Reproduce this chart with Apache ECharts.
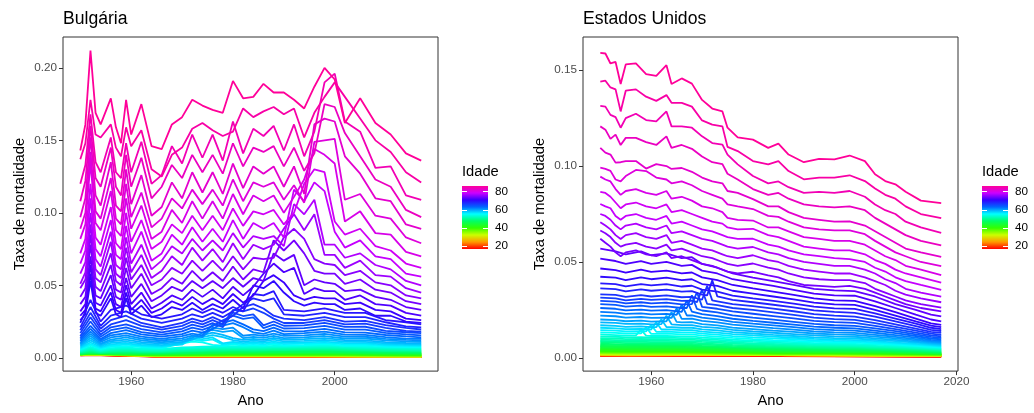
<!DOCTYPE html>
<html>
<head>
<meta charset="utf-8">
<script src="https://cdn.jsdelivr.net/npm/echarts@6/dist/echarts.min.js"></script>
<style>
  html, body { margin: 0; padding: 0; background: #fff; }
  #chart { width: 1034px; height: 413px; }
</style>
</head>
<body>
<div id="chart"></div>
<script>
// ---- Bulgária: idades altas (linhas com mais detalhe) ----
const bgYearsFine = [1950,1951,1952,1953,1954,1956,1957,1958,1959,1960,1962,1964,1966,1968,1970,1972,1974,1976,1978,1980,1982,1984,1986,1988,1990,1992,1994,1996,1998,2000,2002,2005,2008,2011,2014,2017]
const bgAgesFine = [86,85,84,83,82,81,80,79,78,77,76,75,74,73,72,71,70]
const bgRatesFine = [
  [.143,.161,.212,.169,.161,.179,.159,.148,.178,.154,.175,.146,.144,.161,.166,.178,.174,.171,.169,.191,.179,.180,.189,.183,.183,.178,.172,.187,.200,.192,.162,.179,.162,.154,.141,.136],
  [.137,.148,.178,.154,.152,.161,.145,.139,.159,.146,.157,.130,.125,.140,.145,.158,.162,.157,.153,.156,.172,.166,.170,.173,.168,.172,.152,.169,.180,.190,.180,.165,.150,.142,.128,.121],
  [.120,.133,.168,.135,.128,.152,.128,.124,.148,.128,.149,.120,.126,.146,.134,.154,.138,.154,.136,.163,.141,.158,.153,.160,.143,.161,.139,.156,.190,.196,.163,.156,.131,.132,.112,.109],
  [.108,.122,.160,.124,.118,.145,.118,.112,.140,.118,.138,.110,.118,.133,.124,.140,.128,.140,.127,.148,.132,.145,.142,.146,.132,.145,.129,.141,.175,.173,.155,.139,.123,.118,.102,.097],
  [.097,.110,.152,.112,.105,.135,.105,.101,.130,.106,.126,.098,.104,.121,.110,.128,.114,.128,.113,.134,.117,.132,.127,.132,.118,.132,.113,.161,.165,.163,.139,.127,.110,.108,.092,.089],
  [.089,.100,.142,.101,.096,.124,.096,.092,.120,.097,.114,.090,.096,.110,.103,.116,.106,.116,.105,.123,.108,.121,.118,.121,.109,.119,.107,.149,.150,.151,.109,.113,.098,.096,.083,.079],
  [.082,.092,.135,.093,.088,.115,.088,.084,.110,.089,.105,.082,.087,.102,.093,.108,.096,.108,.096,.113,.099,.112,.108,.112,.100,.111,.123,.144,.140,.134,.094,.101,.086,.085,.073,.070],
  [.072,.082,.120,.083,.078,.104,.079,.075,.100,.080,.095,.075,.080,.092,.086,.098,.088,.098,.088,.103,.091,.101,.099,.102,.092,.100,.120,.130,.128,.094,.085,.089,.077,.074,.065,.062],
  [.065,.074,.110,.075,.070,.095,.071,.068,.091,.072,.087,.067,.072,.085,.078,.090,.080,.089,.080,.095,.082,.093,.089,.093,.083,.116,.108,.121,.115,.087,.076,.081,.070,.068,.058,.056],
  [.058,.066,.100,.068,.063,.087,.064,.061,.083,.065,.078,.061,.067,.077,.072,.082,.074,.081,.074,.086,.076,.084,.082,.084,.077,.106,.099,.109,.078,.078,.069,.072,.064,.061,.053,.050],
  [.051,.059,.092,.061,.057,.080,.058,.055,.076,.059,.071,.055,.060,.070,.064,.076,.067,.075,.066,.079,.068,.078,.075,.078,.089,.099,.088,.099,.071,.071,.062,.067,.057,.056,.048,.045],
  [.048,.054,.085,.055,.052,.072,.053,.050,.069,.054,.064,.050,.054,.062,.058,.067,.060,.067,.060,.070,.061,.069,.068,.069,.083,.089,.082,.068,.065,.064,.057,.060,.052,.050,.043,.041],
  [.042,.048,.078,.049,.046,.064,.047,.045,.062,.048,.058,.044,.048,.055,.051,.060,.053,.059,.053,.063,.054,.061,.059,.081,.074,.081,.072,.060,.058,.058,.051,.054,.047,.045,.039,.037],
  [.037,.042,.070,.043,.041,.057,.042,.040,.055,.042,.051,.039,.043,.049,.046,.053,.048,.053,.048,.055,.049,.055,.053,.072,.067,.071,.050,.054,.052,.051,.046,.047,.042,.040,.035,.033],
  [.032,.037,.064,.038,.036,.050,.037,.035,.050,.037,.045,.034,.038,.043,.040,.047,.042,.047,.041,.049,.043,.049,.058,.065,.059,.062,.044,.048,.046,.046,.040,.043,.037,.036,.031,.029],
  [.029,.033,.058,.034,.032,.045,.033,.031,.045,.033,.040,.031,.034,.039,.036,.042,.037,.041,.037,.044,.038,.043,.053,.057,.052,.043,.040,.042,.041,.041,.037,.038,.033,.032,.027,.026],
  [.026,.030,.053,.031,.029,.041,.030,.028,.041,.030,.036,.028,.030,.035,.033,.038,.033,.037,.034,.040,.034,.050,.048,.053,.045,.039,.036,.038,.037,.037,.033,.034,.029,.029,.025,.024]
]

// ---- Bulgária: idades médias ----
const bgYearsMid = [1950,1952,1954,1956,1959,1962,1966,1970,1972,1974,1976,1978,1980,1982,1984,1986,1988,1990,1994,1998,2002,2006,2010,2014,2017]
const bgAgesMid = [69,68,67,66,65,64,63,62,61,60,59,58,57,56,55,54,53,52,51,50,49,48]
const bgRatesMid = [
  [.024,.040,.025,.033,.036,.030,.027,.030,.034,.031,.034,.031,.035,.032,.044,.043,.046,.033,.032,.034,.031,.031,.026,.0245,.023],
  [.021,.035,.022,.029,.032,.027,.024,.027,.030,.028,.031,.028,.032,.037,.041,.039,.041,.030,.029,.031,.028,.028,.0245,.0216,.021],
  [.019,.031,.020,.026,.029,.024,.021,.024,.027,.025,.028,.025,.029,.035,.037,.034,.029,.027,.026,.028,.025,.0255,.0225,.0206,.0195],
  [.017,.028,.018,.023,.026,.022,.0194,.022,.025,.023,.026,.023,.033,.032,.034,.031,.027,.024,.024,.026,.023,.0235,.0206,.0186,.018],
  [.015,.025,.016,.021,.023,.0198,.0175,.020,.0229,.0211,.0239,.0211,.0312,.0288,.0299,.0223,.025,.0221,.0223,.024,.0213,.0214,.0186,.0176,.017],
  [.0137,.022,.0145,.019,.021,.0177,.016,.0182,.0208,.0192,.0218,.0259,.0291,.0269,.0278,.0204,.0229,.0202,.0204,.022,.0194,.0194,.0172,.0162,.0155],
  [.0125,.020,.013,.017,.019,.0161,.0146,.0163,.0187,.0173,.0198,.024,.026,.023,.0196,.0184,.0208,.0182,.0184,.020,.0175,.0173,.0157,.0147,.014],
  [.0114,.018,.012,.0155,.017,.0146,.0131,.0149,.0166,.0154,.0229,.0221,.0239,.0211,.0175,.0165,.0187,.0163,.017,.018,.016,.0158,.0142,.0132,.013],
  [.0103,.0165,.011,.014,.0155,.0132,.0119,.0134,.0153,.0142,.0208,.0197,.0208,.0152,.016,.0151,.0166,.0151,.0155,.0165,.0146,.0145,.013,.0123,.012],
  [.0093,.015,.0098,.0125,.014,.012,.0107,.0122,.0138,.0173,.0192,.0178,.0187,.0136,.0144,.0137,.0151,.0136,.0141,.015,.0133,.0133,.012,.0113,.011],
  [.0085,.0135,.009,.0114,.0125,.0108,.0097,.011,.0125,.0156,.0174,.0158,.0135,.0123,.0131,.0124,.0137,.0125,.0128,.0136,.0121,.012,.0108,.0102,.010],
  [.0078,.012,.0082,.0103,.0112,.0098,.0087,.010,.0148,.0142,.0156,.0142,.0122,.0111,.0118,.0113,.0125,.0113,.0116,.0123,.0111,.011,.0099,.0094,.0093],
  [.007,.0105,.0074,.0092,.010,.0088,.008,.009,.0133,.0128,.014,.010,.011,.0101,.0107,.0102,.0112,.0103,.0106,.0112,.0101,.0101,.0091,.0087,.0086],
  [.0064,.0095,.0067,.0083,.009,.008,.0073,.011,.0125,.0117,.0127,.0091,.0101,.0092,.0098,.0093,.0103,.0094,.0097,.0103,.0092,.0093,.0084,.008,.008],
  [.0058,.0085,.0061,.0075,.0081,.0073,.0066,.0099,.0112,.0106,.0089,.0083,.0092,.0084,.0089,.0084,.0094,.0085,.0088,.0094,.0084,.0085,.0077,.0074,.0074],
  [.0053,.0075,.0055,.0067,.0072,.0063,.0062,.0071,.0074,.0076,.0078,.0078,.008,.0079,.0078,.0079,.0082,.0081,.0083,.0086,.008,.0076,.0072,.007,.0068],
  [.0048,.0067,.005,.006,.0065,.0057,.0056,.0064,.0067,.0069,.0071,.0071,.0073,.0072,.0071,.0072,.0075,.0074,.0076,.0079,.0073,.0069,.0066,.0064,.0062],
  [.0044,.006,.0046,.0055,.0059,.0052,.0051,.0059,.0061,.0063,.0065,.0065,.0066,.0066,.0065,.0066,.0068,.0068,.007,.0072,.0067,.0064,.006,.0058,.0057],
  [.004,.0054,.0042,.005,.0053,.0047,.0046,.0053,.0055,.0057,.0059,.0059,.006,.006,.0059,.006,.0062,.0062,.0064,.0066,.0061,.0058,.0055,.0053,.0052],
  [.0037,.0049,.0038,.0045,.0048,.0043,.0042,.0048,.005,.0052,.0054,.0054,.0055,.0055,.0054,.0055,.0057,.0057,.0059,.006,.0056,.0053,.005,.0049,.0048],
  [.0034,.0045,.0035,.0041,.0044,.0039,.0039,.0044,.0046,.0048,.005,.005,.0051,.0051,.005,.0051,.0053,.0053,.0055,.0056,.0052,.0049,.0046,.0045,.0044],
  [.0031,.0041,.0032,.0038,.004,.0036,.0036,.0041,.0042,.0044,.0046,.0046,.0047,.0047,.0046,.0047,.0049,.0049,.0051,.0052,.0048,.0045,.0042,.0041,.004]
]

// ---- Bulgária: idades jovens ----
const bgYearsLow = [1950,1952,1956,1965,1980,1995,2008,2017]
const bgAgesLow = [47,46,45,44,43,42,41,40,39,38,37,36,35,34,33,32,31,30,29,28,27,26,25,24,23,22,21,20,19,18,17]
const bgRatesLow = [
  [.0029,.0038,.0033,.0033,.0041,.0045,.0039,.0036],
  [.0028,.0036,.0031,.0031,.0038,.0042,.0036,.0033],
  [.0027,.0034,.003,.0029,.0035,.0039,.0033,.003],
  [.0026,.0033,.0029,.0027,.0032,.0036,.0031,.0028],
  [.0026,.0032,.0028,.0025,.003,.0033,.0028,.0026],
  [.0025,.0031,.0027,.0023,.0027,.003,.0026,.0024],
  [.0025,.003,.0026,.0021,.0025,.0028,.0024,.0022],
  [.0024,.0029,.0025,.002,.0023,.0026,.0022,.002],
  [.0024,.0028,.0025,.0019,.0021,.0024,.002,.0018],
  [.0024,.0028,.0024,.0018,.002,.0022,.0018,.0017],
  [.0023,.0027,.0024,.0017,.0018,.002,.0017,.0015],
  [.0023,.0027,.0023,.0016,.0017,.0019,.0016,.0014],
  [.0023,.0026,.0023,.0015,.0016,.0018,.0015,.0013],
  [.0023,.0026,.0023,.0014,.0015,.0017,.0014,.0012],
  [.0022,.0026,.0022,.0014,.0014,.0016,.0013,.0011],
  [.0022,.0025,.0022,.0013,.0013,.0015,.0012,.001],
  [.0022,.0025,.0022,.0013,.0013,.0014,.0011,.001],
  [.0022,.0025,.0021,.0012,.0012,.0013,.001,.0009],
  [.0022,.0025,.0021,.0012,.0012,.0013,.001,.0009],
  [.0022,.0024,.0021,.0012,.0011,.0012,.0009,.0008],
  [.0021,.0024,.0021,.0011,.0011,.0012,.0009,.0008],
  [.0021,.0024,.002,.0011,.0011,.0011,.0008,.0007],
  [.0021,.0024,.002,.0011,.001,.0011,.0008,.0007],
  [.0021,.0023,.002,.001,.001,.0011,.0008,.0007],
  [.0021,.0023,.002,.001,.001,.001,.0008,.0006],
  [.002,.0023,.0019,.001,.001,.001,.0007,.0006],
  [.002,.0022,.0019,.0009,.0009,.001,.0007,.0006],
  [.0019,.0022,.0018,.0009,.0009,.0009,.0007,.0005],
  [.0018,.0021,.0017,.0009,.0009,.0009,.0006,.0005],
  [.0017,.002,.0016,.0008,.0008,.0008,.0006,.0005],
  [.0016,.0019,.0015,.0008,.0008,.0008,.0005,.0004]
]

// ---- Estados Unidos: idades altas ----
const usYearsFine = [1950,1951,1952,1953,1954,1955,1957,1959,1961,1963,1964,1966,1968,1970,1972,1974,1975,1977,1980,1983,1985,1987,1990,1993,1996,1999,2002,2004,2006,2008,2010,2013,2017]
const usAgesFine = [86,85,84,83,82,81,80,79,78,77,76,75,74]
const usRatesFine = [
  [.159,.1587,.1535,.1543,.1428,.153,.1535,.148,.147,.1526,.1428,.1457,.143,.1345,.130,.1285,.120,.115,.1138,.1095,.1117,.106,.102,.1038,.1035,.1055,.1026,.0957,.0922,.0905,.0866,.082,.0807],
  [.144,.1445,.141,.140,.1285,.1393,.140,.1362,.134,.137,.133,.133,.131,.1238,.1216,.1207,.110,.1078,.1026,.1009,.1026,.0974,.0931,.094,.094,.0952,.0922,.0883,.085,.083,.079,.075,.0728],
  [.1314,.131,.1267,.1255,.120,.125,.1273,.124,.1233,.1285,.1207,.1207,.120,.1155,.112,.1112,.106,.1009,.0948,.091,.092,.089,.086,.0865,.086,.087,.084,.080,.077,.075,.071,.068,.0652],
  [.1207,.119,.1142,.1164,.111,.1147,.1147,.1125,.111,.1155,.1095,.111,.109,.105,.102,.101,.096,.093,.088,.085,.086,.083,.080,.079,.0785,.079,.077,.073,.070,.067,.064,.061,.0586],
  [.1095,.107,.106,.1018,.102,.1026,.1026,.0987,.101,.100,.0985,.099,.097,.094,.092,.091,.087,.086,.0828,.079,.079,.076,.073,.072,.071,.0712,.069,.066,.063,.060,.057,.055,.0526],
  [.0992,.0985,.0975,.093,.092,.0948,.098,.0974,.094,.093,.091,.092,.090,.087,.085,.083,.080,.079,.0776,.074,.0735,.071,.068,.067,.0665,.0665,.0645,.061,.058,.055,.053,.050,.0478],
  [.0945,.093,.092,.088,.085,.087,.088,.086,.085,.087,.083,.084,.082,.079,.078,.076,.073,.072,.0716,.068,.068,.066,.063,.062,.061,.061,.059,.056,.053,.051,.048,.046,.0431],
  [.0866,.086,.084,.081,.078,.080,.081,.079,.078,.080,.076,.077,.075,.073,.071,.070,.068,.067,.0673,.064,.063,.061,.058,.057,.056,.056,.054,.051,.049,.046,.044,.042,.0392],
  [.0802,.079,.078,.074,.072,.074,.075,.073,.072,.074,.070,.071,.069,.067,.066,.064,.063,.062,.0621,.059,.058,.056,.054,.053,.052,.0515,.050,.047,.045,.042,.040,.038,.0354],
  [.075,.074,.072,.069,.067,.069,.070,.068,.067,.069,.065,.066,.064,.062,.061,.059,.058,.057,.0578,.055,.054,.052,.050,.049,.048,.048,.046,.044,.041,.039,.036,.034,.0319],
  [.0707,.069,.067,.064,.062,.064,.065,.063,.062,.064,.060,.061,.059,.057,.056,.054,.053,.052,.0535,.051,.050,.048,.046,.045,.044,.044,.042,.040,.038,.035,.033,.031,.029],
  [.0664,.065,.063,.060,.058,.059,.060,.058,.057,.059,.056,.057,.055,.053,.052,.050,.049,.048,.0492,.047,.046,.044,.042,.041,.0405,.0405,.039,.036,.034,.032,.030,.028,.0262],
  [.0621,.060,.058,.055,.053,.055,.056,.054,.053,.055,.052,.053,.051,.049,.048,.046,.045,.044,.0449,.043,.042,.040,.038,.0375,.037,.0375,.036,.034,.032,.030,.028,.026,.0242]
]

// ---- Estados Unidos: idades médias ----
const usYearsMid = [1950,1953,1955,1958,1960,1963,1966,1968,1970,1973,1976,1980,1984,1988,1992,1996,2000,2004,2008,2012,2015,2017]
const usAgesMid = [73,72,71,70,69,68,67,66,65,64,63,62,61,60,59,58,57,56,55,54,53,52,51,50,49,48]
const usRatesMid = [
  [.0569,.0555,.054,.0555,.0535,.0545,.052,.0525,.049,.047,.044,.0418,.040,.038,.036,.0352,.0348,.032,.028,.025,.0225,.0216],
  [.0517,.0505,.049,.0505,.049,.050,.048,.0485,.0455,.044,.041,.0392,.0375,.0355,.0335,.0326,.0324,.0295,.026,.0225,.020,.019],
  [.0466,.0458,.0445,.046,.0448,.0455,.044,.0445,.042,.0405,.038,.0362,.0345,.0328,.031,.030,.0297,.027,.0238,.0205,.018,.0172],
  [.0423,.0418,.0405,.042,.041,.0418,.0405,.041,.0385,.0375,.035,.0335,.032,.0305,.0288,.0279,.0276,.025,.022,.019,.0168,.016],
  [.0388,.0385,.0373,.0385,.0378,.0385,.0372,.0376,.0356,.0345,.0325,.031,.0297,.0283,.0267,.0258,.0255,.0232,.0205,.0178,.0157,.015],
  [.0362,.0358,.0347,.0357,.035,.0356,.0345,.0348,.033,.032,.0302,.029,.0277,.0263,.0248,.024,.0235,.0215,.019,.0166,.0146,.014],
  [.0331,.0328,.0318,.0327,.032,.0326,.0316,.0318,.0303,.0295,.028,.027,.0257,.0243,.0228,.022,.0215,.0197,.0175,.0153,.0136,.013],
  [.0314,.031,.030,.0308,.0302,.0306,.0297,.0298,.0284,.0275,.026,.025,.0237,.0224,.021,.0202,.0198,.0181,.0162,.0142,.0126,.012],
  [.0297,.0293,.0284,.029,.0284,.0288,.0279,.028,.0266,.0256,.0242,.023,.0218,.0206,.0193,.0186,.0182,.0167,.015,.0132,.0117,.0112],
  [.028,.0276,.0267,.0272,.0266,.0269,.026,.0261,.0247,.0237,.0222,.021,.0199,.0188,.0177,.017,.0167,.0154,.0139,.0123,.0109,.0104],
  [.026,.0256,.0248,.0252,.0246,.0249,.024,.0241,.0228,.0218,.0204,.0193,.0183,.0173,.0163,.0157,.0154,.0142,.0129,.0114,.0101,.0097],
  [.024,.0236,.0229,.0232,.0227,.0229,.0221,.0222,.021,.0201,.0188,.0178,.0169,.016,.015,.0145,.0142,.0131,.0119,.0106,.0094,.009],
  [.022,.0217,.021,.0213,.0208,.021,.0203,.0204,.0193,.0185,.0173,.0164,.0155,.0147,.0138,.0133,.013,.012,.011,.0098,.0088,.0084],
  [.020,.0197,.0191,.0194,.0189,.0191,.0185,.0186,.0176,.0169,.0158,.015,.0142,.0135,.0127,.0122,.012,.0111,.0102,.0091,.0082,.0078],
  [.0185,.0182,.0177,.0179,.0175,.0176,.0171,.0171,.0162,.0156,.0146,.0138,.0131,.0124,.0117,.0112,.011,.0102,.0094,.0085,.0077,.0073],
  [.017,.0167,.0162,.0164,.016,.0161,.0157,.0157,.0149,.0143,.0134,.0127,.012,.0114,.0107,.0103,.0101,.0094,.0087,.0079,.0072,.0068],
  [.0157,.0154,.015,.0151,.0148,.0149,.0145,.0145,.0137,.0132,.0124,.0117,.0111,.0105,.0099,.0095,.0093,.0087,.008,.0073,.0067,.0063],
  [.0145,.0142,.0138,.0139,.0136,.0137,.0133,.0133,.0126,.0121,.0113,.0107,.0102,.0097,.0091,.0088,.0086,.008,.0074,.0068,.0062,.0059],
  [.0133,.013,.0127,.0128,.0125,.0126,.0122,.0122,.0116,.0111,.0104,.0098,.0093,.0089,.0084,.0081,.0079,.0074,.0069,.0063,.0058,.0055],
  [.0122,.0119,.0116,.0117,.0114,.0115,.0112,.0112,.0106,.0102,.0095,.009,.0086,.0082,.0077,.0075,.0073,.0069,.0064,.0059,.0054,.0051],
  [.0112,.011,.0107,.0108,.0105,.0106,.0103,.0103,.0098,.0094,.0088,.0083,.0079,.0075,.0071,.0069,.0067,.0063,.0059,.0054,.005,.0047],
  [.0103,.0101,.0098,.0099,.0097,.0097,.0095,.0095,.009,.0086,.0081,.0076,.0073,.0069,.0066,.0064,.0062,.0058,.0055,.0051,.0047,.0044],
  [.0095,.0093,.009,.0091,.0089,.0089,.0087,.0087,.0083,.0079,.0074,.007,.0067,.0064,.0061,.0059,.0057,.0054,.0051,.0047,.0044,.0041],
  [.0088,.0086,.0083,.0084,.0082,.0082,.008,.008,.0076,.0072,.0068,.0064,.0061,.0059,.0056,.0054,.0053,.005,.0047,.0044,.004,.0038],
  [.0081,.0079,.0077,.0077,.0075,.0075,.0073,.0073,.0069,.0066,.0062,.0058,.0056,.0053,.0051,.0049,.0048,.0046,.0043,.004,.0037,.0035],
  [.0074,.0072,.007,.007,.0069,.0069,.0067,.0067,.0063,.006,.0056,.0053,.0051,.0049,.0047,.0046,.0045,.0042,.0039,.0036,.0034,.0032]
]

// pico da coorte (diagonal) nos EUA: [ano, taxa]
const usCohortAges = [54,55,56,57,58,59,60,61,62,63,64,65,66,67,68]
const usCohortPoints = [
  [[1957,.0117],[1958,.0147],[1959,.0116]],
  [[1958,.0128],[1959,.016],[1960,.0125]],
  [[1959,.0138],[1960,.0172],[1961,.0136]],
  [[1960,.0148],[1961,.0186],[1962,.0148]],
  [[1961,.016],[1962,.0201],[1963,.0161]],
  [[1962,.0176],[1963,.022],[1964,.0175]],
  [[1963,.0191],[1964,.0238],[1965,.0188]],
  [[1964,.0208],[1965,.0258],[1966,.0203]],
  [[1965,.0224],[1966,.0277],[1967,.0221]],
  [[1966,.024],[1967,.030],[1968,.0241]],
  [[1967,.026],[1968,.0326],[1969,.0255]],
  [[1968,.028],[1969,.0342],[1970,.0266]],
  [[1969,.0291],[1970,.0356],[1971,.0281]],
  [[1970,.0303],[1971,.0376],[1972,.030]],
  [[1971,.0326],[1972,.0405],[1973,.032]]
]

// ---- Estados Unidos: idades jovens ----
const usYearsLow = [1950,1956,1965,1975,1985,1995,2005,2017]
const usAgesLow = [47,46,45,44,43,42,41,40,39,38,37,36,35,34,33,32,31,30,29,28,27,26,25,24,23,22,21,20,19,18,17]
const usRatesLow = [
  [.0068,.0066,.0064,.0056,.0046,.0042,.004,.003],
  [.0062,.006,.0058,.0051,.0042,.0039,.0037,.0028],
  [.0057,.0055,.0053,.0047,.0039,.0036,.0034,.0026],
  [.0052,.005,.0049,.0043,.0036,.0033,.0031,.0024],
  [.0048,.0046,.0045,.0039,.0033,.0031,.0029,.0022],
  [.0044,.0042,.0041,.0036,.003,.0029,.0027,.0021],
  [.004,.0038,.0038,.0033,.0028,.0027,.0025,.002],
  [.0037,.0035,.0035,.003,.0026,.0025,.0023,.0019],
  [.0034,.0032,.0032,.0028,.0024,.0023,.0021,.0018],
  [.0031,.003,.003,.0026,.0022,.0022,.002,.0017],
  [.0029,.0027,.0028,.0024,.002,.0021,.0018,.0016],
  [.0027,.0025,.0026,.0022,.0019,.002,.0017,.0015],
  [.0025,.0023,.0024,.0021,.0018,.0019,.0016,.0015],
  [.0023,.0021,.0022,.002,.0017,.0018,.0015,.0014],
  [.0022,.002,.0021,.0019,.0016,.0017,.0014,.0014],
  [.002,.0019,.002,.0018,.0016,.0016,.0013,.0013],
  [.0019,.0018,.0019,.0017,.0015,.0016,.0013,.0013],
  [.0018,.0017,.0018,.0017,.0015,.0015,.0012,.0012],
  [.0017,.0016,.0017,.0016,.0014,.0014,.0012,.0012],
  [.0016,.0015,.0016,.0016,.0014,.0014,.0011,.0011],
  [.0016,.0015,.0016,.0016,.0014,.0013,.0011,.0011],
  [.0015,.0014,.0015,.0016,.0014,.0013,.0011,.0011],
  [.0015,.0014,.0015,.0016,.0014,.0013,.001,.001],
  [.0014,.0014,.0015,.0016,.0014,.0012,.001,.001],
  [.0014,.0013,.0015,.0016,.0014,.0012,.001,.001],
  [.0014,.0013,.0014,.0016,.0014,.0012,.001,.001],
  [.0013,.0013,.0014,.0015,.0014,.0012,.001,.0009],
  [.0013,.0012,.0013,.0015,.0013,.0011,.0009,.0009],
  [.0012,.0011,.0012,.0014,.0012,.001,.0009,.0008],
  [.0011,.001,.0011,.0013,.0011,.0009,.0008,.0007],
  [.001,.0009,.0009,.0011,.0009,.0008,.0007,.0005]
]

// eixos e legenda
const xTicksBg = [1960, 1980, 2000]
const xTicksUs = [1960, 1980, 2000, 2020]
const yTicksBg = [0, 0.05, 0.1, 0.15, 0.2]
const yTicksUs = [0, 0.05, 0.1, 0.15]
const legendTicks = [20, 40, 60, 80]
const AGE_MIN = 17, AGE_MAX = 86

const FONT = '"Liberation Sans", Arial, Helvetica, sans-serif'
// rainbow(10) do R
const RAINBOW = ['#FF0000', '#FF9900', '#CCFF00', '#33FF00', '#00FF66', '#00FFFF', '#0066FF', '#3300FF', '#CC00FF', '#FF0099']

const hexRgb = h => [1, 3, 5].map(i => parseInt(h.slice(i, i + 2), 16))
const ageColor = age => {
  const p = (age - AGE_MIN) / (AGE_MAX - AGE_MIN) * (RAINBOW.length - 1)
  const i = Math.min(RAINBOW.length - 2, Math.floor(p))
  const t = p - i
  const a = hexRgb(RAINBOW[i]), b = hexRgb(RAINBOW[i + 1])
  return 'rgb(' + a.map((c, k) => Math.round(c + (b[k] - c) * t)).join(',') + ')'
}

// junta as tabelas em pontos [ano, taxa] por idade
const collect = groups => {
  const byAge = {}
  groups.forEach(([ages, years, rows]) => {
    ages.forEach((age, k) => { byAge[age] = years.map((y, j) => [y, rows[k][j]]) })
  })
  return byAge
}

const bgLines = collect([[bgAgesFine, bgYearsFine, bgRatesFine], [bgAgesMid, bgYearsMid, bgRatesMid], [bgAgesLow, bgYearsLow, bgRatesLow]])
const usLines = collect([[usAgesFine, usYearsFine, usRatesFine], [usAgesMid, usYearsMid, usRatesMid], [usAgesLow, usYearsLow, usRatesLow]])
usCohortAges.forEach((age, k) => {
  const pts = usCohortPoints[k]
  const yrs = new Set(pts.map(p => p[0]))
  usLines[age] = usLines[age].filter(p => !yrs.has(p[0])).concat(pts).sort((a, b) => a[0] - b[0])
})

const panelSeries = (byAge, idx) => Object.keys(byAge).map(Number).sort((a, b) => a - b).map(age => ({
  type: 'line', xAxisIndex: idx, yAxisIndex: idx, data: byAge[age],
  symbol: 'none', showSymbol: false, silent: true, animation: false,
  lineStyle: { width: 1.8, color: ageColor(age) }, itemStyle: { color: ageColor(age) },
  emphasis: { disabled: true },
}))

const xAxisDef = (idx, ticks) => ({
  type: 'value', gridIndex: idx, min: 1946.6, max: 2020.3,
  name: 'Ano', nameLocation: 'middle', nameGap: 21,
  nameTextStyle: { color: '#000', fontSize: 14.7, fontFamily: FONT },
  axisLine: { show: false, onZero: false },
  axisTick: { show: true, customValues: ticks, length: 4, lineStyle: { color: '#333', width: 1 } },
  axisLabel: { customValues: ticks, formatter: v => String(v), color: '#4D4D4D', fontSize: 11.7, fontFamily: FONT, margin: 5 },
  splitLine: { show: false },
})

const yAxisDef = (idx, min, max, ticks) => ({
  type: 'value', gridIndex: idx, min, max,
  name: 'Taxa de mortalidade', nameLocation: 'middle', nameGap: 36,
  nameTextStyle: { color: '#000', fontSize: 14.7, fontFamily: FONT },
  axisLine: { show: false, onZero: false },
  axisTick: { show: true, customValues: ticks, length: 4, lineStyle: { color: '#333', width: 1 } },
  axisLabel: { customValues: ticks, formatter: v => v.toFixed(2), color: '#4D4D4D', fontSize: 11.7, fontFamily: FONT, margin: 6 },
  splitLine: { show: false },
})

// legenda em barra de cor (Idade)
const legendGraphic = x0 => {
  const top = 186, h = 63, w = 26
  const yOf = a => top + h - (a - AGE_MIN) / (AGE_MAX - AGE_MIN) * h
  const els = [
    { type: 'text', x: x0, y: 172, style: { text: 'Idade', fill: '#000', fontSize: 14.7, fontFamily: FONT, verticalAlign: 'middle' } },
    { type: 'rect', shape: { x: x0, y: top, width: w, height: h },
      style: { fill: new echarts.graphic.LinearGradient(0, 1, 0, 0, RAINBOW.map((c, i) => ({ offset: i / (RAINBOW.length - 1), color: c }))) } },
  ]
  legendTicks.forEach(t => {
    const y = Math.round(yOf(t)) + 0.5
    els.push({ type: 'line', shape: { x1: x0, y1: y, x2: x0 + 5, y2: y }, style: { stroke: '#fff', lineWidth: 1 } })
    els.push({ type: 'line', shape: { x1: x0 + w - 5, y1: y, x2: x0 + w, y2: y }, style: { stroke: '#fff', lineWidth: 1 } })
    els.push({ type: 'text', x: x0 + w + 7, y: yOf(t), style: { text: String(t), fill: '#000', fontSize: 11.7, fontFamily: FONT, verticalAlign: 'middle' } })
  })
  return els
}

const chart = echarts.init(document.getElementById('chart'), null, { renderer: 'canvas' })
chart.setOption({
  backgroundColor: '#fff',
  animation: false,
  title: [
    { text: 'Bulgária', left: 63, top: 10, padding: 0, textStyle: { fontSize: 17.6, fontWeight: 'normal', color: '#000', fontFamily: FONT } },
    { text: 'Estados Unidos', left: 583, top: 10, padding: 0, textStyle: { fontSize: 17.6, fontWeight: 'normal', color: '#000', fontFamily: FONT } },
  ],
  grid: [
    { left: 63, top: 37, width: 375, height: 336, show: true, borderColor: '#333', borderWidth: 1, backgroundColor: '#fff' },
    { left: 583, top: 37, width: 375, height: 336, show: true, borderColor: '#333', borderWidth: 1, backgroundColor: '#fff' },
  ],
  xAxis: [xAxisDef(0, xTicksBg), xAxisDef(1, xTicksUs)],
  yAxis: [yAxisDef(0, -0.0092, 0.2213, yTicksBg), yAxisDef(1, -0.0069, 0.1673, yTicksUs)],
  series: [...panelSeries(bgLines, 0), ...panelSeries(usLines, 1)],
  graphic: { elements: [...legendGraphic(462), ...legendGraphic(982)] },
})
</script>
</body>
</html>
